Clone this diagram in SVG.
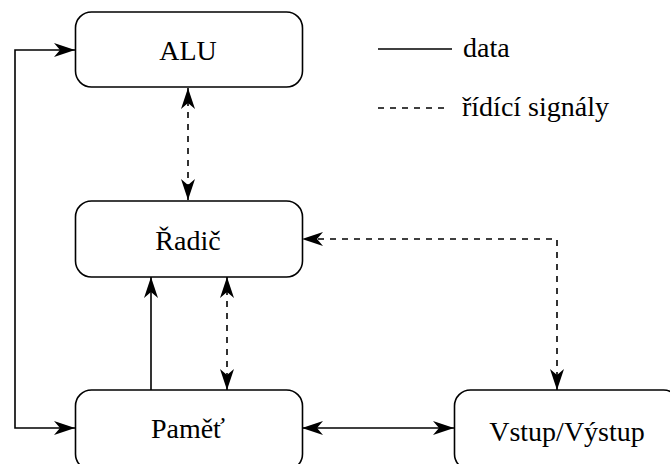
<svg xmlns="http://www.w3.org/2000/svg" width="670" height="464" viewBox="0 0 670 464">
<defs>
<style>
.box{fill:#fff;stroke:#000;stroke-width:1.6}
.lbl{font-family:"Liberation Serif","Times New Roman",serif;font-size:28px;fill:#000}
.mid{text-anchor:middle}
.ln{fill:none;stroke:#000;stroke-width:1.6}
.dash{stroke-dasharray:6,6}
</style>
<marker id="ah" viewBox="0 0 21 14" refX="21" refY="7" markerWidth="21" markerHeight="14" markerUnits="userSpaceOnUse" orient="auto-start-reverse">
<path d="M0,0 L21,7 L0,14 L6,7 z" fill="#000"/>
</marker>
</defs>
<rect width="670" height="464" fill="#fff"/>
<g id="connectors">
<path class="ln" d="M75,428 L15,428 L15,50 L75,50" marker-start="url(#ah)" marker-end="url(#ah)"/>
<path class="ln dash" d="M188,88 L188,200" marker-start="url(#ah)" marker-end="url(#ah)"/>
<path class="ln" d="M151,390 L151,277" marker-end="url(#ah)"/>
<path class="ln dash" d="M227,277 L227,390" marker-start="url(#ah)" marker-end="url(#ah)"/>
<path class="ln dash" d="M557,390 L557,239 L302,239" marker-start="url(#ah)" marker-end="url(#ah)"/>
<path class="ln" d="M302,428 L454,428" marker-start="url(#ah)" marker-end="url(#ah)"/>
</g>
<g font-family="Liberation Serif, Times New Roman, serif">
<g id="alu"><rect class="box" x="75.5" y="12" width="227" height="75" rx="16"/><text class="lbl mid" x="188" y="60">ALU</text></g>
<g id="radic"><rect class="box" x="75.5" y="201" width="227" height="76" rx="16"/><text class="lbl mid" x="188" y="250">Řadič</text></g>
<g id="pamet"><rect class="box" x="75.5" y="390" width="227" height="80" rx="16"/><text class="lbl mid" x="188" y="438">Paměť</text></g>
<g id="vstup"><rect class="box" x="454.5" y="390" width="225" height="80" rx="16"/><text class="lbl mid" x="567" y="441">Vstup/Výstup</text></g>
<g id="legend">
<line class="ln" x1="378" y1="49" x2="452" y2="49"/>
<text class="lbl" x="463" y="57">data</text>
<line class="ln dash" x1="378" y1="108" x2="450" y2="108"/>
<text class="lbl" x="462" y="116">řídící signály</text>
</g>
</g>
</svg>
